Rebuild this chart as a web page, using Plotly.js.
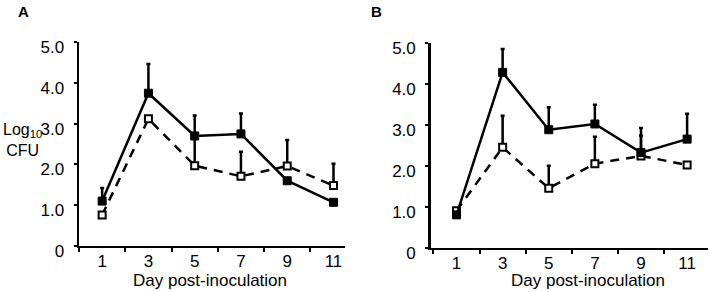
<!DOCTYPE html>
<html><head><meta charset="utf-8">
<script src="https://cdn.plot.ly/plotly-3.0.1.min.js"></script>
<style>html,body{margin:0;padding:0;background:#fff}#chart{width:710px;height:292px}</style>
</head><body><div id="chart"></div>
<script>
const days = [1, 3, 5, 7, 9, 11];
const xTickLabels = ['1', '3', '5', '7', '9', '11'];
const yTickVals = [0, 1, 2, 3, 4, 5];
const yTickLabels = ['0', '1.0', '2.0', '3.0', '4.0', '5.0'];

// Panel A
const aSolid = [1.1, 3.75, 2.7, 2.75, 1.6, 1.07];
const aSolidErr = [0.32, 0.72, 0.5, 0.5, 0, 0];
const aDashed = [0.76, 3.12, 1.97, 1.71, 1.96, 1.48];
const aDashedErr = [0, 0, 0.75, 0.6, 0.64, 0.54];

// Panel B
const bSolid = [0.8, 4.28, 2.88, 3.02, 2.32, 2.65];
const bSolidErr = [0, 0.57, 0.55, 0.47, 0.6, 0.62];
const bDashed = [0.9, 2.45, 1.45, 2.05, 2.24, 2.02];
const bDashedErr = [0, 0.77, 0.55, 0.66, 0.5, 0];

const FONT = 'Liberation Sans, Arial, sans-serif';

function solid(y, err, xa, ya) {
  return {x: days, y: y, xaxis: xa, yaxis: ya, type: 'scatter', mode: 'lines+markers',
    line: {color: '#000', width: 2.5},
    marker: {symbol: 'square', size: 8, color: '#000', line: {color: '#000', width: 1}},
    error_y: {type: 'data', symmetric: false, array: err, arrayminus: days.map(() => 0),
      color: '#000', thickness: 2.5, width: 2},
    showlegend: false, cliponaxis: false};
}
function dashed(y, err, xa, ya) {
  return {x: days, y: y, xaxis: xa, yaxis: ya, type: 'scatter', mode: 'lines+markers',
    line: {color: '#000', width: 2.5, dash: '9px,7px'},
    marker: {symbol: 'square', size: 7, color: '#fff', line: {color: '#000', width: 2}},
    error_y: {type: 'data', symmetric: false, array: err, arrayminus: days.map(() => 0),
      color: '#000', thickness: 2.5, width: 2},
    showlegend: false, cliponaxis: false};
}

const data = [
  dashed(aDashed, aDashedErr, 'x', 'y'),
  solid(aSolid, aSolidErr, 'x', 'y'),
  dashed(bDashed, bDashedErr, 'x2', 'y2'),
  solid(bSolid, bSolidErr, 'x2', 'y2')
];

function xax(domain, range) {
  return {domain: domain, range: range, tickvals: days, ticktext: xTickLabels, ticks: '',
    ticklabelstandoff: -2,
    showgrid: false, zeroline: false, showline: true, linecolor: '#000', linewidth: 2.5,
    tickfont: {family: FONT, size: 17, color: '#000'},
    minor: {tick0: 0, dtick: 2, ticks: 'outside', ticklen: 4, tickwidth: 2, tickcolor: '#000', showgrid: false},
    fixedrange: true};
}
function yax(domain, anchor) {
  return {domain: domain, anchor: anchor, range: [0, 5], tickvals: yTickVals, ticktext: yTickLabels,
    ticks: 'outside', ticklen: 3, tickwidth: 2, tickcolor: '#000', ticklabelstandoff: 6,
    ticklabelshift: 5,
    showgrid: false, zeroline: false, showline: true, linecolor: '#000', linewidth: 2.5,
    tickfont: {family: FONT, size: 17, color: '#000'}, fixedrange: true};
}

function ann(text, x, y, size, extra) {
  return Object.assign({text: text, xref: 'paper', yref: 'paper', x: x / 710, y: 1 - y / 292,
    xanchor: 'center', yanchor: 'middle', showarrow: false,
    font: {family: FONT, size: size, color: '#000'}}, extra || {});
}

const layout = {
  width: 710, height: 292,
  margin: {l: 0, r: 0, t: 0, b: 0},
  paper_bgcolor: '#fff', plot_bgcolor: '#fff',
  xaxis: Object.assign(xax([0.1113, 0.486], [0, 11.5]), {anchor: 'y'}),
  yaxis: yax([0.158, 0.855], 'x'),
  xaxis2: Object.assign(xax([0.6066, 0.997], [-0.12, 11.9]), {anchor: 'y2'}),
  yaxis2: yax([0.152, 0.853], 'x2'),
  annotations: [
    ann('<b>A</b>', 23, 11, 15),
    ann('<b>B</b>', 377, 11, 15),
    ann('Log<sub>10</sub><br>CFU', 22, 140, 16, {align: 'center'}),
    ann('Day post-inoculation', 210, 280, 17),
    ann('Day post-inoculation', 588, 280, 17)
  ]
};

Plotly.newPlot('chart', data, layout, {displayModeBar: false, staticPlot: true});
</script>
</body></html>
